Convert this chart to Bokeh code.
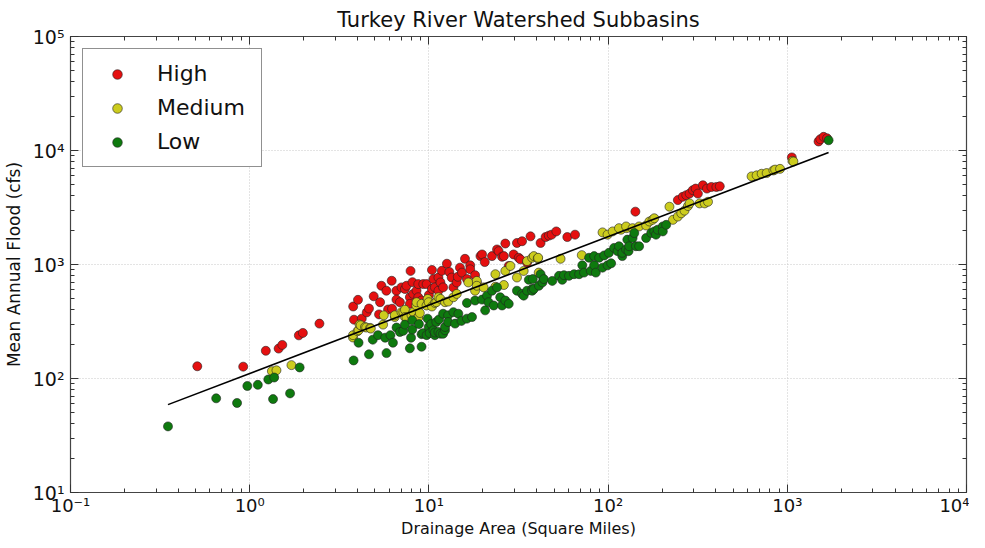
from bokeh.plotting import figure
from bokeh.models import (FixedTicker, CustomJSTickFormatter, LogAxis, Legend, LegendItem)
from bokeh.embed import file_html
from bokeh.resources import INLINE

# ---------------- data (drainage area in sq mi, mean annual flood in cfs) -------------
high_area = [0.51, 0.92, 1.23, 1.45, 1.52, 1.88, 1.98, 2.45,
             3.78, 3.82, 4.02, 4.22, 4.5, 4.63, 4.92, 5.27, 5.34, 5.43, 5.79, 5.92, 6.2, 6.23,
             6.59, 6.59, 6.89, 7.03, 7.35, 7.5, 7.83, 7.83, 7.9, 8.1, 8.17, 8.53, 8.72, 8.72,
             9.1, 9.3, 9.71, 10.0, 10.4, 10.4, 10.6, 10.8,
             11.3, 11.3, 11.6, 11.8, 12.0, 12.6, 13.0, 13.4, 13.7, 14.3, 14.5, 14.9, 15.3, 15.9,
             16.3, 17.0, 17.0, 18.1, 18.5, 19.4, 19.8, 20.5, 22.5, 24.0, 24.5, 25.6, 26.2, 26.7,
             27.9, 29.7, 31.0, 31.7, 32.4, 33.1, 35.3, 36.9,
             42.0, 44.8, 46.7, 48.4, 51.4, 59.2, 65.4,
             142, 245, 261, 273, 285, 297, 308, 317, 338, 356, 377, 402, 420,
             1060, 1494, 1528, 1594, 1666]
high_flood = [128, 127, 175, 183, 197, 239, 251, 303,
              428, 328, 490, 335, 380, 411, 526, 365, 467, 651, 589, 403, 720, 409,
              589, 492, 467, 630, 610, 651, 516, 452, 878, 700, 552, 589, 673, 516,
              483, 673, 673, 540, 896, 610, 745, 630,
              769, 589, 696, 880, 630, 1016, 860, 769, 630, 696, 780, 938, 849, 1122,
              745, 984, 908, 806, 696, 1185, 1225, 1050, 1185, 1355, 1309, 1169, 1185, 1527,
              971, 1225, 1545, 1146, 1110, 1600, 1038, 1766,
              1545, 1741, 1791, 1827, 1950, 1741, 1827,
              2909, 3673, 3926, 4055, 4189, 4487, 4634, 4189, 4955, 4634, 4786, 4786, 4853,
              8700, 11990, 12560, 13180, 12800]

medium_area = [1.33, 1.41, 1.71,
               3.77, 3.77, 4.0, 4.05, 4.1, 4.16, 4.4, 4.47, 4.7, 4.74, 5.55, 5.6, 6.45, 6.45,
               7.03, 7.2, 7.35, 7.35, 7.5, 8.0, 8.2, 8.5, 8.53, 8.7, 8.72, 8.9, 9.1, 9.7, 9.84,
               9.97, 10.4, 10.8, 11.0, 11.3, 11.6, 12.3, 12.8, 13.7, 14.3,
               16.6, 18.1, 18.5, 18.5, 20.2, 23.5, 23.5, 26.2, 26.7, 28.5, 31.0, 33.8, 35.3,
               37.7, 38.5, 40.5, 40.7, 41.0, 54.3, 71.3,
               93.1, 99.3, 106, 118, 127,
               115, 126, 137, 149, 163, 170, 177, 181, 220, 230, 245, 256, 267, 279, 285,
               324, 346, 361,
               632, 674, 719, 767, 836, 855, 911, 1069, 1082]
medium_flood = [116, 118, 131,
                229, 240, 260, 265, 297, 293, 283, 280, 278, 274, 297, 358, 346, 358,
                382, 382, 401, 346, 342, 358, 382, 437, 467, 346, 342, 375, 452, 437, 499,
                467, 428, 460, 467, 516, 499, 467, 473, 516, 552,
                696, 589, 718, 651, 630, 638, 822, 661, 878, 971, 769, 878, 1072,
                1146, 1185, 1132, 1146, 849, 1122, 1208,
                1913, 1827, 1950, 2019, 2084,
                2084, 2157, 2084, 2157, 2199, 2383, 2465, 2545, 3213, 2465, 2633, 2812, 2966,
                3258, 3434,
                3434, 3434, 3550,
                5929, 6051, 6252, 6339, 6683, 6800, 6902, 8100, 8000]

low_area = [0.35, 0.65, 0.85, 0.97, 1.11, 1.27, 1.37, 1.35, 1.68, 1.90,
            3.8, 4.05, 4.63, 4.86, 5.2, 5.8, 5.7, 6.1, 6.3, 6.6, 6.89, 7.19, 7.35, 7.83, 7.95,
            8.07, 8.07, 8.8, 9.1, 9.1, 9.3, 9.71, 9.84, 9.97, 10.1, 10.3, 10.6, 10.8, 10.8,
            11.0, 11.3, 11.4, 11.6, 12.0, 12.0, 12.3, 12.3, 12.8, 12.8, 13.7, 14.0, 14.6, 15.2,
            16.3, 16.3, 17.4, 18.1,
            19.8, 20.6, 21.1, 21.5, 22.5, 23.0, 24.0, 25.0, 25.6, 26.7, 27.9, 31.0, 33.1, 33.8,
            35.3, 36.1, 37.7, 37.7, 38.0, 38.5, 41.1, 42.0, 43.0, 43.8,
            48.8, 53.2, 55.5, 56.7, 60.5, 64.6, 68.9, 71.8, 73.4, 78.3, 80.0, 83.6, 83.6, 85.4,
            89.1, 93.1, 95.1, 99.3, 101, 104, 108, 113, 115, 120, 120, 126, 128, 130, 131,
            137, 140, 143, 149, 163, 174, 181, 185, 189, 202, 202, 211,
            1700]
low_flood = [38, 67, 61, 86, 88, 98, 102, 66, 74, 125,
             144, 206, 163, 219, 240, 167, 228, 240, 206, 280, 256, 262, 297, 184, 228,
             269, 324, 300, 245, 190, 250, 240, 335, 283, 250, 300, 265, 240, 253,
             313, 256, 330, 247, 247, 370, 265, 283, 358, 313, 382, 303, 370, 320,
             335, 460, 346, 483,
             492, 396, 533, 467, 589, 437, 630, 516, 437, 483, 452, 589, 552, 533,
             589, 734, 610, 589, 745, 610, 651, 822, 696, 745,
             718, 795, 734, 806, 795, 822, 822, 984, 849, 1146, 878, 984, 1185, 849,
             1146, 938, 1200, 984, 1265, 1024, 1399, 1309, 1446, 1185, 1265, 1355, 1653, 1309, 1446,
             1708, 1888, 1446, 1446, 1708, 1888, 1950, 1827, 2019, 2157, 1950, 2229,
             12300]

# regression line end points
fit_area = [0.35, 1700]
fit_flood = [59, 9600]

major_x = [0.1, 1, 10, 100, 1000, 10000]
major_y = [10, 100, 1000, 10000, 100000]
minor_x = [k * d for d in [0.1, 1, 10, 100, 1000] for k in range(2, 10)]
minor_y = [k * d for d in [10, 100, 1000, 10000] for k in range(2, 10)]

FONT = "DejaVu Sans"

p = figure(width=969, height=540, x_axis_type="log", y_axis_type="log",
           x_range=(0.1, 10000), y_range=(10, 100000),
           output_backend="svg", toolbar_location=None,
           title="Turkey River Watershed Subbasins",
           min_border_left=66, min_border_right=3, min_border_top=30, min_border_bottom=40)

p.title.align = "center"
p.title.text_font = FONT
p.title.text_font_size = "21px"
p.title.text_font_style = "normal"
p.title.text_color = "#111111"
p.title.offset = 0

sup_code = """
const e = Math.round(Math.log10(tick));
const sup = {'-':'\u207b','0':'\u2070','1':'\u00b9','2':'\u00b2','3':'\u00b3','4':'\u2074',
             '5':'\u2075','6':'\u2076','7':'\u2077','8':'\u2078','9':'\u2079'};
return '10' + String(e).split('').map(c => sup[c]).join('');
"""

def style_axis(ax, major, minor):
    ax.ticker = FixedTicker(ticks=major, minor_ticks=minor)
    ax.major_tick_in = 8
    ax.major_tick_out = 0
    ax.minor_tick_in = 4
    ax.minor_tick_out = 0
    ax.major_tick_line_color = "#333333"
    ax.minor_tick_line_color = "#333333"
    ax.axis_line_color = None

for ax, mj, mn in [(p.xaxis[0], major_x, minor_x), (p.yaxis[0], major_y, minor_y)]:
    style_axis(ax, mj, mn)
    ax.formatter = CustomJSTickFormatter(code=sup_code)
    ax.major_label_text_font = FONT
    ax.major_label_text_color = "#111111"
    ax.axis_label_text_font = FONT
    ax.axis_label_text_font_style = "normal"
    ax.axis_label_text_color = "#111111"

p.xaxis.major_label_text_font_size = "18px"
p.yaxis.major_label_text_font_size = "19px"
p.xaxis.axis_label_text_font_size = "16px"
p.yaxis.axis_label_text_font_size = "17px"
p.xaxis.axis_label = "Drainage Area (Square Miles)"
p.yaxis.axis_label = "Mean Annual Flood (cfs)"
p.xaxis.major_label_standoff = 2
p.xaxis.axis_label_standoff = 0
p.yaxis.major_label_standoff = 6
p.yaxis.axis_label_standoff = 6

# mirrored tick axes on top and right
top = LogAxis()
style_axis(top, major_x, minor_x)
top.formatter = CustomJSTickFormatter(code="return '';")
top.major_label_standoff = 0
top.major_label_text_font_size = "1px"
p.add_layout(top, "above")
right = LogAxis()
style_axis(right, major_y, minor_y)
right.formatter = CustomJSTickFormatter(code="return '';")
right.major_label_standoff = 0
right.major_label_text_font_size = "1px"
p.add_layout(right, "right")

p.outline_line_color = "#444444"
p.outline_line_width = 1.2
p.grid.grid_line_color = "#c8c8c8"
p.grid.grid_line_dash = "1 2"
p.grid.grid_line_width = 1
p.background_fill_color = "white"
p.border_fill_color = "white"

r_high = p.scatter(high_area, high_flood, size=9, fill_color="#e51010",
                   line_color="#222222", line_width=0.6)
r_med = p.scatter(medium_area, medium_flood, size=9, fill_color="#cccc1e",
                  line_color="#222222", line_width=0.6)
r_low = p.scatter(low_area, low_flood, size=9, fill_color="#0e7a0e",
                  line_color="#222222", line_width=0.6)
p.line(fit_area, fit_flood, line_color="black", line_width=1.6)

legend = Legend(items=[LegendItem(label="High", renderers=[r_high]),
                       LegendItem(label="Medium", renderers=[r_med]),
                       LegendItem(label="Low", renderers=[r_low])],
                location="top_left")
legend.margin = 12
legend.padding = 12
legend.spacing = 9
legend.glyph_width = 44
legend.glyph_height = 24
legend.label_height = 24
legend.label_standoff = 18
legend.label_width = 92
legend.label_text_font = FONT
legend.label_text_font_size = "22px"
legend.label_text_color = "#111111"
legend.border_line_color = "#222222"
legend.border_line_width = 1
legend.background_fill_alpha = 1
p.add_layout(legend, "center")

open("out.html", "w").write(file_html(p, INLINE))
